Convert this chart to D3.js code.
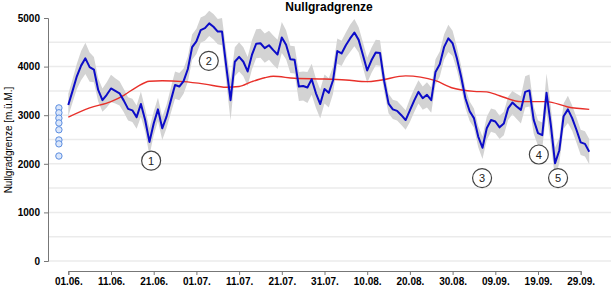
<!DOCTYPE html>
<html>
<head>
<meta charset="utf-8">
<script src="https://cdn.jsdelivr.net/npm/d3@7"></script>
<style>
  body { margin: 0; background: #fff; }
  svg { font-family: "Liberation Sans", Arial, sans-serif; }
</style>
</head>
<body>
<svg id="drawing_region"></svg>
<script>
// daily freezing level, 01.06. onwards
const startDate = "01.06.2013";
const nullgrad = [
  3210, 3500, 3800, 4020, 4170, 3990, 3940, 3520, 3310, 3420,
  3550, 3500, 3450, 3300, 3130, 3100, 2960, 3230, 2900, 2450,
  2830, 3120, 2730, 2970, 3300, 3620, 3590, 3700, 3950, 4400,
  4520, 4750, 4790, 4890, 4820, 4720, 4720, 4000, 3310, 4100,
  4200, 4100, 3900, 4240, 4470, 4480, 4380, 4440, 4340, 4250,
  4600, 4450, 4150, 4140, 3590, 3600, 3570, 3740, 3450, 3230,
  3540, 3460, 3720, 4320, 4270, 4440, 4580, 4700, 4550, 4240,
  3920, 4130, 4290, 4280, 3690, 3240, 3120, 3090, 3000, 2900,
  3100, 3300, 3480, 3350, 3420, 3310, 3890, 4050, 4400, 4580,
  4480, 4170, 3790, 3350, 3080, 2940, 2560, 2330, 2730, 2900,
  2870, 2750, 2830, 3140, 3260, 3180, 3110, 3480, 3510, 2900,
  2630, 2590, 3460, 2800, 2010, 2280, 2980, 3120, 2940, 2700,
  2440, 2410, 2250
];
// half width of the grey band
const spread = [
  230, 240, 260, 300, 320, 300, 260, 240, 240, 260,
  280, 260, 250, 240, 240, 240, 240, 260, 240, 280,
  240, 240, 240, 240, 260, 280, 280, 260, 260, 260,
  260, 260, 260, 260, 260, 260, 280, 320, 420, 300,
  300, 300, 300, 300, 300, 300, 300, 300, 300, 300,
  320, 300, 280, 280, 300, 300, 320, 320, 300, 300,
  300, 300, 280, 260, 260, 260, 280, 280, 260, 260,
  260, 260, 260, 260, 220, 200, 200, 200, 200, 200,
  240, 240, 240, 240, 260, 260, 260, 260, 260, 280,
  260, 240, 220, 200, 200, 200, 220, 230, 240, 240,
  240, 240, 240, 240, 240, 260, 280, 320, 330, 280,
  260, 260, 400, 380, 320, 260, 260, 280, 260, 260,
  260, 260, 260
];
// long-term mean (day offset, value)
const meanDays = [0, 5, 10, 13, 16, 19, 22, 27, 32, 37, 40, 43, 46, 48, 53, 60, 65, 70, 73, 79, 86, 90, 95, 98, 101, 106, 112, 117, 122];
const meanVals = [2960, 3150, 3280, 3410, 3580, 3700, 3710, 3690, 3640, 3575, 3590, 3690, 3770, 3800, 3760, 3745, 3725, 3690, 3720, 3810, 3710, 3560, 3490, 3480, 3400, 3280, 3280, 3170, 3120];
// earlier values shown as circles left of the series
const pastVals = [3150, 3050, 2940, 2840, 2700, 2490, 2410, 2160];
const pastDay = -2.2;
// numbered markers (day offset, value)
const markLabels = ["1", "2", "3", "4", "5"];
const markDays = [19.4, 32.9, 96.9, 110.2, 114.7];
const markVals = [2064, 4118, 1706, 2191, 1706];
const xTickLabels = ["01.06.", "11.06.", "21.06.", "01.07.", "11.07.", "21.07.", "31.07.", "10.08.", "20.08.", "30.08.", "09.09.", "19.09.", "29.09."];
const yTicks = [0, 1000, 2000, 3000, 4000, 5000];
const gridVals = [0, 500, 1000, 1500, 2000, 2500, 3000, 3500, 4000, 4500];

const width = 616, height = 291;
const parse = d3.timeParse("%d.%m.%Y");
const t0 = parse(startDate);
const dayToDate = n => new Date(t0.getTime() + n * 86400000);

const svg = d3.select('#drawing_region')
    .attr('width', width)
    .attr('height', height);

const tickDates = xTickLabels.map(s => parse(s + "2013"));
const x = d3.scaleTime()
    .domain([tickDates[0], tickDates[tickDates.length - 1]])
    .range([68.3, 580.7]);
const y = d3.scaleLinear()
    .domain([0, 5000])
    .range([261, 18]);

// grid
svg.append('g')
    .selectAll('line')
    .data(gridVals)
    .join('line')
    .attr('x1', 48).attr('x2', 611)
    .attr('y1', d => y(d)).attr('y2', d => y(d))
    .attr('stroke', '#ebebeb')
    .attr('stroke-width', 1.5);

const series = nullgrad.map((v, i) => ({ date: dayToDate(i), v: v, s: spread[i] }));

// band
const area = d3.area()
    .x(d => x(d.date))
    .y0(d => y(d.v - d.s))
    .y1(d => y(d.v + d.s));
svg.append('path')
    .datum(series)
    .attr('d', area)
    .attr('fill', '#d3d3d3');

// mean line
const meanData = meanDays.map((d, i) => ({ date: dayToDate(d), v: meanVals[i] }));
svg.append('path')
    .datum(meanData)
    .attr('d', d3.line().x(d => x(d.date)).y(d => y(d.v)).curve(d3.curveMonotoneX))
    .attr('fill', 'none')
    .attr('stroke', '#e8302a')
    .attr('stroke-width', 1.4);

// main line
svg.append('path')
    .datum(series)
    .attr('d', d3.line().x(d => x(d.date)).y(d => y(d.v)))
    .attr('fill', 'none')
    .attr('stroke', '#0c0cc8')
    .attr('stroke-width', 2)
    .attr('stroke-linejoin', 'round');

// past values
svg.append('g')
    .selectAll('circle')
    .data(pastVals)
    .join('circle')
    .attr('cx', x(dayToDate(pastDay)))
    .attr('cy', d => y(d))
    .attr('r', 3.2)
    .attr('fill', '#dbe7fb')
    .attr('stroke', '#5b8de0')
    .attr('stroke-width', 1);

// numbered markers
const marks = svg.append('g')
    .selectAll('g')
    .data(markLabels)
    .join('g')
    .attr('transform', (d, i) => `translate(${x(dayToDate(markDays[i]))},${y(markVals[i])})`);
marks.append('circle')
    .attr('r', 9.5)
    .attr('fill', 'white')
    .attr('stroke', '#444')
    .attr('stroke-width', 1.2);
marks.append('text')
    .attr('text-anchor', 'middle')
    .attr('dy', '4px')
    .attr('font-size', '11px')
    .attr('fill', '#222')
    .text(d => d);

// axes
const yAxis = svg.append('g')
    .attr('transform', 'translate(48,0)')
    .call(d3.axisLeft(y).tickValues(yTicks).tickFormat(d3.format("d")).tickSize(4).tickPadding(4));
yAxis.selectAll('text').attr('font-size', '10px').attr('font-weight', 'bold').attr('fill', '#000')
    .attr('font-family', '"Liberation Sans", Arial, sans-serif');
yAxis.selectAll('path, line').attr('stroke', '#777');

const xAxis = svg.append('g')
    .attr('transform', 'translate(0,271)')
    .call(d3.axisBottom(x).tickValues(tickDates).tickFormat(d3.timeFormat("%d.%m.")).tickSize(4).tickPadding(3));
xAxis.selectAll('text').attr('font-size', '10px').attr('font-weight', 'bold').attr('fill', '#000')
    .attr('font-family', '"Liberation Sans", Arial, sans-serif');
xAxis.selectAll('path, line').attr('stroke', '#777');

// title and axis label
svg.append('text')
    .attr('x', 329).attr('y', 11)
    .attr('text-anchor', 'middle')
    .attr('font-size', '12px')
    .attr('font-weight', 'bold')
    .text('Nullgradgrenze');

svg.append('text')
    .attr('transform', 'translate(12,140) rotate(-90)')
    .attr('text-anchor', 'middle')
    .attr('font-size', '10px')
    .text('Nullgradgrenze [m.ü.M.]');
</script>
</body>
</html>
